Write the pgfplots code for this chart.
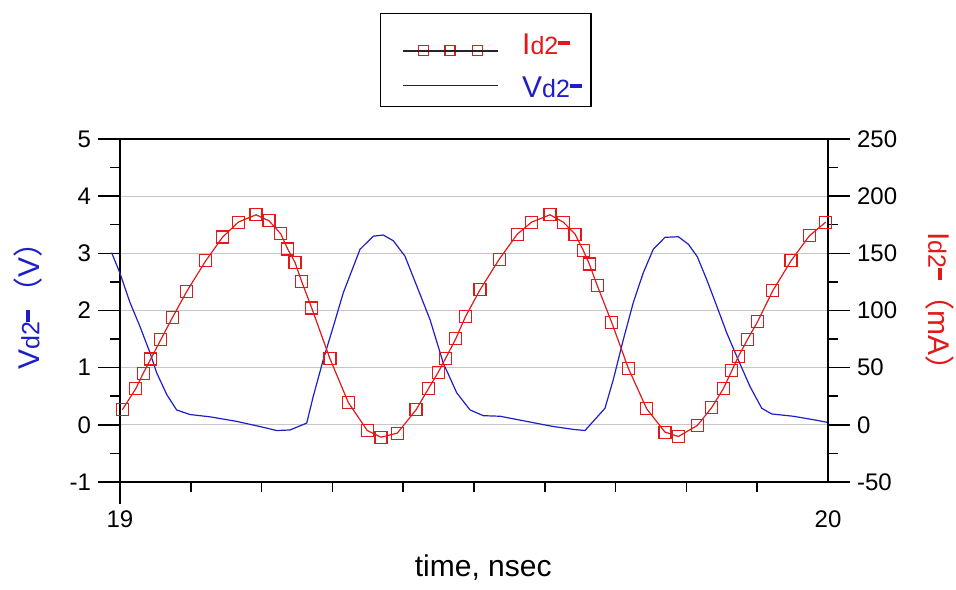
\documentclass[border=0pt]{standalone}
\usepackage{fontspec}
\setmainfont{Liberation Sans}
\newfontfamily\cjk{Noto Sans CJK SC}
\usepackage{pgfplots}
\pgfplotsset{compat=1.18}

\definecolor{vblue}{RGB}{30,30,200}
\definecolor{ired}{RGB}{225,25,25}

% big letter, small "d2", thick dash
\newcommand{\sig}[1]{{\fontsize{15}{16}\selectfont #1}{\fontsize{12.5}{13}\selectfont d2}\rule[4.7pt]{6pt}{2pt}}

\pgfplotstableread{
t v
18.9883 3.01
19.0000 2.65
19.0141 2.14
19.0282 1.72
19.0424 1.26
19.0518 0.91
19.0660 0.53
19.0800 0.26
19.0989 0.18
19.1271 0.14
19.1648 0.06
19.1977 -0.03
19.2213 -0.10
19.2401 -0.09
19.2637 0.03
19.2730 0.50
19.2871 1.14
19.3013 1.72
19.3154 2.31
19.3390 3.07
19.3578 3.30
19.3719 3.32
19.3860 3.22
19.4025 2.95
19.4191 2.43
19.4379 1.84
19.4566 1.08
19.4756 0.56
19.4944 0.26
19.5131 0.16
19.5367 0.15
19.5744 0.06
19.6120 -0.03
19.6403 -0.08
19.6568 -0.10
19.6662 0.03
19.6850 0.29
19.6967 0.79
19.7109 1.49
19.7250 2.14
19.7391 2.66
19.7532 3.07
19.7698 3.28
19.7886 3.29
19.8027 3.16
19.8154 2.94
19.8287 2.54
19.8428 2.08
19.8569 1.61
19.8710 1.20
19.8898 0.67
19.9064 0.29
19.9205 0.19
19.9510 0.15
19.9792 0.09
20.0004 0.04
}\vdata

\pgfplotstableread{
t i
19.0032 13.1
19.0222 31.5
19.0329 45.2
19.0434 57.5
19.0575 74.3
19.0744 94.2
19.0942 116.6
19.1210 143.4
19.1450 164.2
19.1671 177.3
19.1921 183.7
19.2105 178.4
19.2270 167.1
19.2369 153.7
19.2472 142.0
19.2566 125.3
19.2708 102.1
19.2966 57.7
19.3225 19.5
19.3493 -5.0
19.3686 -10.8
19.3917 -7.3
19.4181 13.1
19.4355 31.5
19.4496 46.1
19.4600 58.3
19.4742 75.2
19.4880 94.7
19.5085 118.1
19.5357 144.9
19.5612 166.8
19.5815 177.3
19.6073 183.7
19.6261 177.3
19.6427 166.8
19.6544 152.5
19.6629 140.6
19.6742 121.6
19.6945 89.5
19.7179 49.6
19.7439 14.0
19.7698 -6.4
19.7886 -10.2
19.8154 -0.6
19.8357 15.1
19.8521 31.5
19.8640 47.2
19.8733 59.7
19.8860 74.3
19.9007 90.4
19.9219 117.2
19.9477 143.4
19.9736 165.3
19.9968 177.3
}\idata

\pgfplotsset{
  common/.style={
    scale only axis, width=354pt, height=171.5pt,
    xmin=19, xmax=20,
    tick align=outside,
    major tick length=11pt, minor tick length=5pt,
    axis line style={line width=0.75pt},
    tick style={black, line width=0.75pt},
    tick label style={font=\fontsize{12}{12}\selectfont},
    label style={font=\fontsize{15}{16}\selectfont},
    /pgf/number format/assume math mode=true,
  },
}

\begin{document}
\begin{tikzpicture}
\begin{axis}[
  common,
  ymin=-1, ymax=5,
  xtick={19}, extra x ticks={20}, extra x tick style={tick style={draw=none}},
  minor xtick={19.1,19.2,19.3,19.4,19.5,19.6,19.7,19.8,19.9},
  ytick={-1,0,...,5}, minor y tick num=1,
  xtick pos=left, ytick pos=left,
  ymajorgrids, grid style={gray!45, line width=0.6pt},
  clip=false,
  xlabel={time, nsec},
  xlabel style={at={(axis description cs:0.513,-0.248)}, anchor=center},
  ylabel={\textcolor{vblue}{\sig{V}\hspace{1pt}{\cjk （}V{\cjk ）}}},
  ylabel style={at={(axis description cs:-0.13,0.535)}, anchor=center},
]
\addplot[vblue, line width=0.6pt] table[x=t, y=v] {\vdata};
\coordinate (bl) at (rel axis cs:0,0);
\coordinate (tr) at (rel axis cs:1,1);
\end{axis}

\begin{axis}[
  common,
  ymin=-50, ymax=250,
  axis x line=none, axis y line*=right,
  ytick={-50,0,...,250}, minor y tick num=1,
  ylabel={\textcolor{ired}{\sig{I}{\cjk （}mA{\cjk ）}}},
  ylabel style={at={(axis description cs:1.158,0.505)}, anchor=center, rotate=180},
  legend style={
    at={(axis description cs:0.3672,1.3683)}, anchor=north west,
    draw=black, line width=0.75pt, fill=white,
    inner xsep=3pt, inner ysep=3pt, row sep=8pt,
    nodes={inner sep=1.5pt, text depth=0pt},
    /tikz/every odd column/.append style={column sep=10pt},
  },
  legend cell align=left,
]
\addplot[ired, line width=0.6pt, mark=square, mark size=3pt,
  mark options={line width=0.6pt},
  legend image code/.code={
    \path (0pt,0pt);
    \foreach \xx in {18,31.3,45.2}{
      \draw[ired, line width=0.6pt] (\xx pt-2.5pt,-8.6pt) rectangle ++(5pt,5pt);
    }
    \draw[black!85, line width=0.7pt] (8pt,-6.1pt) -- (55.5pt,-6.1pt);
  }] table[x=t, y=i] {\idata};
\addlegendentry{\textcolor{ired}{\rule{0pt}{16.2pt}\sig{I}}}
\addlegendimage{black, legend image code/.code={
    \path (0pt,0pt);
    \draw[black!85, line width=0.7pt] (8pt,0.95pt) -- (55.5pt,0.95pt);}}
\addlegendentry{\textcolor{vblue}{\sig{V}}}
\end{axis}

\pgfresetboundingbox
\path[use as bounding box] ([shift={(-60pt,-54pt)}]bl) rectangle ([shift={(64pt,69.5pt)}]tr);
\end{tikzpicture}
\end{document}
